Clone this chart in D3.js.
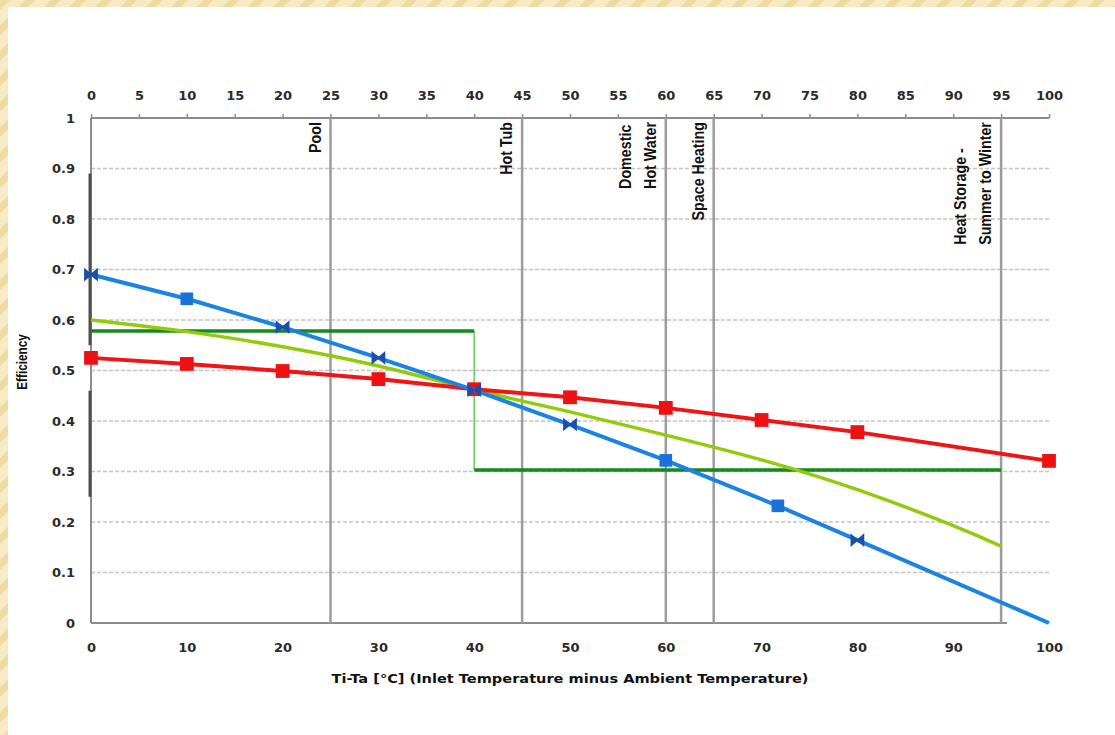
<!DOCTYPE html>
<html>
<head>
<meta charset="utf-8">
<script src="https://cdn.jsdelivr.net/npm/d3@7"></script>
<style>
  body { margin: 0; background: #fff; }
  svg { display: block; }
  .axis .tick text { font-family: "DejaVu Sans", sans-serif; font-weight: bold; font-size: 13px; fill: #2a2a2a; }
  .axis .tick line { stroke: #8c8c8c; stroke-width: 1.5; }
  .cond { font-family: "Liberation Sans", Arial, sans-serif; font-weight: bold; fill: #111; }
</style>
</head>
<body>
<div id="chart"></div>
<script>
// readings
var blueX = [0, 10, 20, 30, 40, 50, 60, 71.7, 80, 100];
var blueVals = [0.690, 0.642, 0.586, 0.525, 0.461, 0.393, 0.322, 0.232, 0.164, 0.0];
var blueMarks = ["x", "square", "x", "x", "x", "x", "square", "square", "x", ""];

var redX = [0, 10, 20, 30, 40, 50, 60, 70, 80, 100];
var redVals = [0.525, 0.513, 0.499, 0.483, 0.463, 0.447, 0.426, 0.402, 0.378, 0.321];

var limeX = [0, 10, 20, 30, 40, 50, 60, 70, 80, 90, 95];
var limeVals = [0.600, 0.577, 0.547, 0.509, 0.462, 0.418, 0.372, 0.323, 0.264, 0.193, 0.152];

var stepX = [0, 40, 95];
var stepVals = [0.578, 0.303];

var useX = [25, 45, 60, 65, 95];
var useLabels = [["Pool"], ["Hot Tub"], ["Domestic", "Hot Water"], ["Space Heating"], ["Heat Storage -", "Summer to Winter"]];

var topTicks = [0, 5, 10, 15, 20, 25, 30, 35, 40, 45, 50, 55, 60, 65, 70, 75, 80, 85, 90, 95, 100];
var bottomTicks = [0, 10, 20, 30, 40, 50, 60, 70, 80, 90, 100];
var yTicks = [0, 0.1, 0.2, 0.3, 0.4, 0.5, 0.6, 0.7, 0.8, 0.9, 1];
var leftAxisDark = [[0.89, 0.55], [0.46, 0.25]];

var width = 1115, height = 735;
var narrow = 0.84;

var svg = d3.select("#chart").append("svg")
  .attr("width", width)
  .attr("height", height);

// beige striped border
var defs = svg.append("defs");
var pat = defs.append("pattern")
  .attr("id", "stripes")
  .attr("patternUnits", "userSpaceOnUse")
  .attr("width", 18)
  .attr("height", 18)
  .attr("patternTransform", "rotate(45)");
pat.append("rect").attr("width", 18).attr("height", 18).attr("fill", "#f7ebc4");
pat.append("rect").attr("width", 7).attr("height", 18).attr("fill", "#eedaa2");

svg.append("rect")
  .attr("width", width)
  .attr("height", height)
  .attr("fill", "url(#stripes)");
svg.append("rect")
  .attr("x", 8)
  .attr("y", 7)
  .attr("width", width - 8)
  .attr("height", height - 7)
  .attr("fill", "#fff");

var x = d3.scaleLinear().domain([0, 100]).range([91, 1049]);
var y = d3.scaleLinear().domain([0, 1]).range([623, 118]);

// gridlines
svg.append("g").selectAll("line")
  .data(yTicks.filter(function(d) { return d > 0 && d < 1; }))
  .enter().append("line")
  .attr("x1", x(0))
  .attr("x2", x(100))
  .attr("y1", function(d) { return y(d); })
  .attr("y2", function(d) { return y(d); })
  .attr("stroke", "#c4c4c4")
  .attr("stroke-width", 1.5)
  .attr("stroke-dasharray", "4,2");

// axes
svg.append("g")
  .attr("class", "axis")
  .attr("transform", "translate(0," + y(1) + ")")
  .call(d3.axisTop(x).tickValues(topTicks).tickSize(4).tickPadding(14))
  .call(function(g) { g.select(".domain").remove(); });

svg.append("g")
  .attr("class", "axis")
  .attr("transform", "translate(0," + y(0) + ")")
  .call(d3.axisBottom(x).tickValues(bottomTicks).tickSize(0).tickPadding(20))
  .call(function(g) { g.select(".domain").remove(); });

svg.append("g")
  .attr("class", "axis")
  .attr("transform", "translate(" + x(0) + ",0)")
  .call(d3.axisLeft(y).tickValues(yTicks).tickFormat(d3.format("")).tickSize(0).tickPadding(16))
  .call(function(g) { g.select(".domain").remove(); });

// frame
var frame = svg.append("g").attr("stroke", "#8c8c8c").attr("stroke-width", 2);
frame.append("line").attr("x1", x(0)).attr("x2", x(100)).attr("y1", y(1)).attr("y2", y(1));
frame.append("line").attr("x1", x(0)).attr("x2", x(0)).attr("y1", y(1)).attr("y2", y(0));
frame.append("line").attr("x1", x(0)).attr("x2", x(95) + 6).attr("y1", y(0)).attr("y2", y(0));

svg.append("g").selectAll("line")
  .data(leftAxisDark)
  .enter().append("line")
  .attr("x1", x(0) - 1)
  .attr("x2", x(0) - 1)
  .attr("y1", function(d) { return y(d[0]); })
  .attr("y2", function(d) { return y(d[1]); })
  .attr("stroke", "#505050")
  .attr("stroke-width", 3);

// application temperature lines
svg.append("g").selectAll("line")
  .data(useX)
  .enter().append("line")
  .attr("x1", function(d) { return x(d); })
  .attr("x2", function(d) { return x(d); })
  .attr("y1", y(1))
  .attr("y2", y(0))
  .attr("stroke", "#9c9c9c")
  .attr("stroke-width", 2.5);

var labelG = svg.append("g");
useLabels.forEach(function(lines, i) {
  var lx = x(useX[i]);
  var texts = lines.map(function(t) {
    return labelG.append("text")
      .attr("class", "cond")
      .attr("font-size", 17)
      .text(t);
  });
  var maxLen = narrow * d3.max(texts, function(t) { return t.node().getComputedTextLength(); });
  texts.forEach(function(t, j) {
    var bx = lx - 10 - (lines.length - 1 - j) * 25;
    t.attr("transform", "translate(" + bx + "," + (y(1) + 4 + maxLen) + ") rotate(-90) scale(" + narrow + ",1)");
  });
});

// dark green step
var stepG = svg.append("g").attr("fill", "none");
stepG.append("line")
  .attr("x1", x(stepX[1])).attr("x2", x(stepX[1]))
  .attr("y1", y(stepVals[0])).attr("y2", y(stepVals[1]))
  .attr("stroke", "#6fcf6f")
  .attr("stroke-width", 1.6);
stepG.selectAll("line.h")
  .data(stepVals)
  .enter().append("line")
  .attr("class", "h")
  .attr("x1", function(d, i) { return x(stepX[i]); })
  .attr("x2", function(d, i) { return x(stepX[i + 1]); })
  .attr("y1", function(d) { return y(d); })
  .attr("y2", function(d) { return y(d); })
  .attr("stroke", "#17871f")
  .attr("stroke-width", 3.5);

// lime curve
var limeLine = d3.line()
  .x(function(d, i) { return x(limeX[i]); })
  .y(function(d) { return y(d); })
  .curve(d3.curveNatural);
svg.append("path")
  .datum(limeVals)
  .attr("d", limeLine)
  .attr("fill", "none")
  .attr("stroke", "#92cb0a")
  .attr("stroke-width", 3.5);

// red
var redLine = d3.line()
  .x(function(d, i) { return x(redX[i]); })
  .y(function(d) { return y(d); });
svg.append("path")
  .datum(redVals)
  .attr("d", redLine)
  .attr("fill", "none")
  .attr("stroke", "#f01414")
  .attr("stroke-width", 4);
svg.append("g").selectAll("path")
  .data(redVals)
  .enter().append("path")
  .attr("transform", function(d, i) { return "translate(" + x(redX[i]) + "," + y(d) + ")"; })
  .attr("d", d3.symbol(d3.symbolSquare, 190))
  .attr("fill", "#ee1111");

// blue
var bowtie = {
  draw: function(context, size) {
    var r = Math.sqrt(size) / 2;
    context.moveTo(-r, -r * 0.85);
    context.lineTo(r, r * 0.85);
    context.lineTo(r, -r * 0.85);
    context.lineTo(-r, r * 0.85);
    context.closePath();
  }
};
var blueLine = d3.line()
  .x(function(d, i) { return x(blueX[i]); })
  .y(function(d) { return y(d); });
svg.append("path")
  .datum(blueVals)
  .attr("d", blueLine)
  .attr("fill", "none")
  .attr("stroke", "#1b84e2")
  .attr("stroke-width", 4);
svg.append("g").selectAll("path")
  .data(blueVals.filter(function(d, i) { return blueMarks[i] != ""; }))
  .enter().append("path")
  .attr("transform", function(d, i) { return "translate(" + x(blueX[i]) + "," + y(d) + ")"; })
  .attr("d", function(d, i) {
    return blueMarks[i] == "square" ? d3.symbol(d3.symbolSquare, 160)() : d3.symbol(bowtie, 150)();
  })
  .attr("fill", function(d, i) { return blueMarks[i] == "square" ? "#1a72d9" : "#1a4fae"; })
  .attr("stroke", function(d, i) { return blueMarks[i] == "square" ? "none" : "#1a4fae"; })
  .attr("stroke-width", 1.5);

// axis titles
svg.append("text")
  .attr("class", "cond")
  .attr("font-size", 14)
  .attr("text-anchor", "middle")
  .attr("transform", "translate(27,362) rotate(-90) scale(" + narrow + ",1)")
  .text("Efficiency");

svg.append("text")
  .attr("x", 570)
  .attr("y", 683)
  .attr("text-anchor", "middle")
  .attr("font-family", "DejaVu Sans, sans-serif")
  .attr("font-weight", "bold")
  .attr("font-size", 13)
  .attr("fill", "#111")
  .attr("textLength", 477)
  .attr("lengthAdjust", "spacingAndGlyphs")
  .text("Ti-Ta [\u00B0C] (Inlet Temperature minus Ambient Temperature)");
</script>
</body>
</html>
